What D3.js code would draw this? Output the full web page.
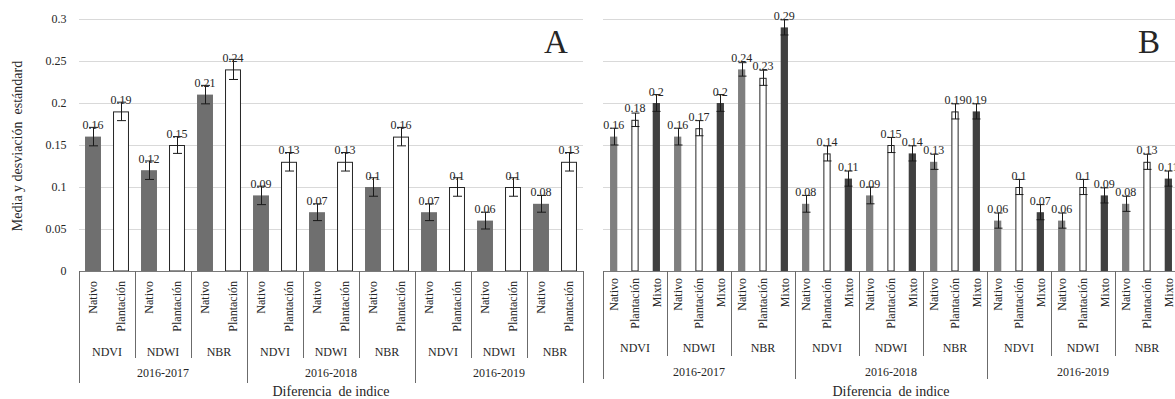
<!DOCTYPE html>
<html>
<head>
<meta charset="utf-8">
<script src="https://cdn.jsdelivr.net/npm/d3@7"></script>
<style>
  html, body { margin: 0; padding: 0; background: #fff; }
  svg { display: block; font-family: "Liberation Serif", "Times New Roman", serif; }
  text { fill: #262626; }
</style>
</head>
<body>
<svg id="chart" width="1175" height="399"></svg>
<script>
// Category levels
const periods = ["2016-2017", "2016-2018", "2016-2019"];
const indices = ["NDVI", "NDWI", "NBR"];
const coversA = ["Nativo", "Plantación"];
const coversB = ["Nativo", "Plantación", "Mixto"];
const yTicks = [0, 0.05, 0.1, 0.15, 0.2, 0.25, 0.3];

// Panel A: mean and standard deviation, ordered period → index → cover
const meanA = [0.16, 0.19, 0.12, 0.15, 0.21, 0.24,
               0.09, 0.13, 0.07, 0.13, 0.1, 0.16,
               0.07, 0.1, 0.06, 0.1, 0.08, 0.13];
const sdA   = [0.011, 0.011, 0.011, 0.010, 0.011, 0.012,
               0.011, 0.011, 0.010, 0.011, 0.011, 0.011,
               0.010, 0.011, 0.010, 0.011, 0.010, 0.011];

// Panel B: mean and standard deviation, ordered period → index → cover
const meanB = [0.16, 0.18, 0.2, 0.16, 0.17, 0.2, 0.24, 0.23, 0.29,
               0.08, 0.14, 0.11, 0.09, 0.15, 0.14, 0.13, 0.19, 0.19,
               0.06, 0.1, 0.07, 0.06, 0.1, 0.09, 0.08, 0.13, 0.11];
const sdB   = [0.010, 0.008, 0.010, 0.010, 0.009, 0.010, 0.008, 0.009, 0.009,
               0.010, 0.009, 0.009, 0.010, 0.009, 0.009, 0.009, 0.009, 0.009,
               0.009, 0.009, 0.009, 0.009, 0.009, 0.009, 0.009, 0.009, 0.009];

const svg = d3.select("#chart");
const yBase = 271, yTop = 19;
const y = d3.scaleLinear().domain([0, 0.3]).range([yBase, yTop]);

// y-axis title and tick labels (shared scale)
svg.append("text")
  .attr("transform", "translate(17,146) rotate(-90)")
  .attr("text-anchor", "middle").attr("dy", "0.35em")
  .style("font-size", "14px").style("white-space", "pre")
  .text("Media y desviación  estándard");

const yAxis = svg.append("g").attr("transform", "translate(79,0)")
  .call(d3.axisLeft(y).tickValues(yTicks).tickSize(0).tickPadding(12.5)
        .tickFormat(d => d3.format("~g")(d)));
yAxis.select(".domain").remove();
yAxis.selectAll("text").style("font-size", "12px")
  .style("font-family", "Liberation Serif, serif").attr("fill", "#262626");

function drawPanel(cfg) {
  const keys = [];
  periods.forEach(p => indices.forEach(ix => cfg.covers.forEach(c => keys.push({p, ix, c}))));
  keys.forEach((k, i) => { k.id = i; k.v = cfg.mean[i]; k.sd = cfg.sd[i]; });

  const n = keys.length;
  const pad = cfg.pad;
  const x = d3.scaleBand().domain(d3.range(n))
    .range([cfg.left, cfg.right]).paddingInner(pad).paddingOuter(pad / 2);
  const step = x.step();
  const slotLeft = i => x(i) - step * pad / 2;
  const isOpen = d => cfg.covers.indexOf(d.c) === 1;

  const g = svg.append("g");

  // horizontal gridlines
  const grid = g.append("g").attr("transform", `translate(${cfg.left},0)`)
    .call(d3.axisLeft(y).tickValues(yTicks.slice(1))
          .tickSize(-(cfg.gridRight - cfg.left)).tickFormat(""));
  grid.select(".domain").remove();
  grid.selectAll("line").attr("stroke", "#d9d9d9").attr("stroke-width", 1);

  // bars
  g.selectAll("rect.bar").data(keys).join("rect")
    .attr("class", "bar")
    .attr("x", d => x(d.id) + (isOpen(d) ? 0.5 : 0))
    .attr("y", d => y(d.v) + (isOpen(d) ? 0.5 : 0))
    .attr("width", d => x.bandwidth() - (isOpen(d) ? 1 : 0))
    .attr("height", d => yBase - y(d.v) - (isOpen(d) ? 0.5 : 0))
    .attr("fill", d => cfg.fill[cfg.covers.indexOf(d.c)])
    .attr("stroke", d => isOpen(d) ? "#262626" : "none")
    .attr("stroke-width", 1);

  // error bars
  const eb = g.selectAll("g.err").data(keys).join("g").attr("class", "err")
    .attr("stroke", "#1a1a1a").attr("stroke-width", 1);
  const cx = d => Math.round(x(d.id) + x.bandwidth() / 2) + 0.5;
  eb.append("line").attr("x1", cx).attr("x2", cx)
    .attr("y1", d => y(d.v + d.sd)).attr("y2", d => y(d.v - d.sd));
  eb.append("line").attr("x1", d => cx(d) - cfg.cap / 2).attr("x2", d => cx(d) + cfg.cap / 2)
    .attr("y1", d => y(d.v + d.sd)).attr("y2", d => y(d.v + d.sd));
  eb.append("line").attr("x1", d => cx(d) - cfg.cap / 2).attr("x2", d => cx(d) + cfg.cap / 2)
    .attr("y1", d => y(d.v - d.sd)).attr("y2", d => y(d.v - d.sd));

  // value labels
  g.selectAll("text.val").data(keys).join("text")
    .attr("class", "val")
    .attr("x", d => x(d.id) + x.bandwidth() / 2)
    .attr("y", d => y(d.v) - 7.5)
    .attr("text-anchor", "middle")
    .style("font-size", "12px")
    .text(d => d3.format("~g")(d.v));

  // category baseline
  g.append("line").attr("x1", cfg.left).attr("x2", cfg.gridRight)
    .attr("y1", yBase + 0.5).attr("y2", yBase + 0.5)
    .attr("stroke", "#7a7a7a").attr("stroke-width", 1);

  // leaf labels (cover type), rotated
  const leaf = g.append("g").attr("transform", `translate(0,${yBase})`)
    .call(d3.axisBottom(x).tickSize(0).tickFormat(i => keys[i].c));
  leaf.select(".domain").remove();
  leaf.selectAll("text")
    .attr("transform", "rotate(-90)")
    .attr("x", -cfg.leafGap).attr("y", 0).attr("dy", "0.35em")
    .attr("text-anchor", "end")
    .style("font-size", "12px").style("font-family", "Liberation Serif, serif")
    .attr("fill", "#262626");

  // group separators
  const per = cfg.covers.length;
  const bounds = d3.range(0, n + 1, per);
  g.selectAll("line.sep").data(bounds).join("line")
    .attr("class", "sep")
    .attr("x1", i => Math.round(i < n ? slotLeft(i) : cfg.right) + 0.5)
    .attr("x2", i => Math.round(i < n ? slotLeft(i) : cfg.right) + 0.5)
    .attr("y1", yBase)
    .attr("y2", i => (i % (per * indices.length) === 0) ? cfg.yearSepEnd : cfg.idxSepEnd)
    .attr("stroke", "#6b6b6b").attr("stroke-width", 1);

  // index labels
  const idxGroups = [];
  periods.forEach((p, pi) => indices.forEach((ix, ii) => {
    const first = (pi * indices.length + ii) * per;
    idxGroups.push({ name: ix, cx: slotLeft(first) + step * per / 2 });
  }));
  g.selectAll("text.idx").data(idxGroups).join("text")
    .attr("class", "idx")
    .attr("x", d => d.cx).attr("y", cfg.idxY)
    .attr("text-anchor", "middle").style("font-size", "12px")
    .text(d => d.name);

  // period labels
  const perGroups = periods.map((p, pi) => {
    const first = pi * indices.length * per;
    return { name: p, cx: slotLeft(first) + step * per * indices.length / 2 };
  });
  g.selectAll("text.per").data(perGroups).join("text")
    .attr("class", "per")
    .attr("x", d => d.cx).attr("y", cfg.perY)
    .attr("text-anchor", "middle").style("font-size", "12px")
    .text(d => d.name);

  // axis title
  g.append("text")
    .attr("x", (cfg.left + cfg.right) / 2).attr("y", 395.5)
    .attr("text-anchor", "middle").style("font-size", "14px").style("white-space", "pre")
    .text("Diferencia  de indice");

  // panel letter
  g.append("text")
    .attr("x", cfg.letterX).attr("y", 52.5)
    .attr("text-anchor", "middle").style("font-size", "33px")
    .text(cfg.letter);
}

drawPanel({
  covers: coversA, mean: meanA, sd: sdA,
  left: 79, right: 583, gridRight: 583,
  pad: 0.43, cap: 9,
  fill: ["#6f6f6f", "#ffffff"],
  leafGap: 10, idxY: 356, perY: 377, idxSepEnd: 358, yearSepEnd: 383,
  letter: "A", letterX: 556
});

drawPanel({
  covers: coversB, mean: meanB, sd: sdB,
  left: 603, right: 1179, gridRight: 1175,
  pad: 0.66, cap: 8,
  fill: ["#7f7f7f", "#ffffff", "#404040"],
  leafGap: 7, idxY: 352, perY: 376, idxSepEnd: 356, yearSepEnd: 379,
  letter: "B", letterX: 1149
});
</script>
</body>
</html>
